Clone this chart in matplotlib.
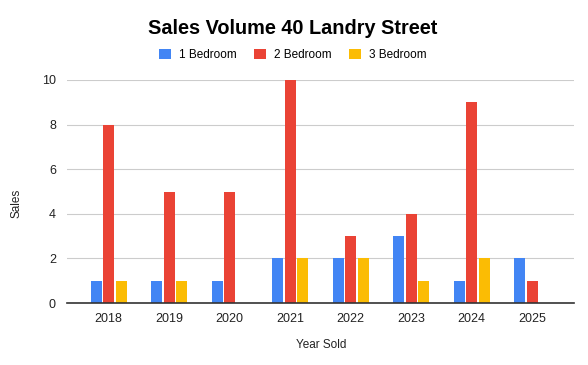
import matplotlib
matplotlib.use("Agg")
import matplotlib.pyplot as plt
import numpy as np
from matplotlib.patches import Patch

years = ["2018", "2019", "2020", "2021", "2022", "2023", "2024", "2025"]
series_names = ["1 Bedroom", "2 Bedroom", "3 Bedroom"]
one_bed = [1, 1, 1, 2, 2, 3, 1, 2]
two_bed = [8, 5, 5, 10, 3, 4, 9, 1]
three_bed = [1, 1, 0, 2, 2, 1, 2, 0]
colors = ["#4285F4", "#EA4335", "#FBBC04"]

plt.rcParams['font.family'] = ['Liberation Sans', 'DejaVu Sans']

fig = plt.figure(figsize=(5.88, 3.65), dpi=100)
ax = fig.add_axes([67/588, 1 - 303/365, (574-67)/588, (303-80)/365])

x = np.arange(len(years))
w = 0.18
step = 0.205
for i, (vals, c) in enumerate(zip([one_bed, two_bed, three_bed], colors)):
    ax.bar(x + (i - 1) * step, vals, width=w, color=c, zorder=3)

ax.set_xlim(-0.69, 7.69)
ax.set_ylim(0, 10)
ax.set_yticks([0, 2, 4, 6, 8, 10])
ax.set_xticks(x)
ax.set_xticklabels(years)
ax.tick_params(axis='both', length=0, labelsize=9, colors='#222222')
ax.tick_params(axis='x', pad=7)
ax.tick_params(axis='y', pad=8)
ax.grid(axis='y', color='#cccccc', linewidth=0.8, zorder=0)
for s in ['top', 'right', 'left']:
    ax.spines[s].set_visible(False)
ax.spines['bottom'].set_color('#333333')
ax.spines['bottom'].set_linewidth(1.2)
ax.spines['bottom'].set_zorder(4)

fig.text(293/588, 1 - 28/365, "Sales Volume 40 Landry Street", ha='center', va='center',
         fontsize=14.3, fontweight='bold', color='#000000')
fig.text(17/588, 1 - 203/365, "Sales", rotation=90, ha='center', va='center', fontsize=8.5, color='#222222')
fig.text(321/588, 1 - 345/365, "Year Sold", ha='center', va='center', fontsize=8.5, color='#222222')

handles = [Patch(facecolor=c, edgecolor='none') for c in colors]
fig.legend(handles, series_names, loc='center', bbox_to_anchor=(293/588, 1 - 55/365), ncol=3,
           frameon=False, fontsize=8.5, handlelength=1.0, handleheight=1.0,
           columnspacing=1.45, handletextpad=0.7)

fig.savefig("out.png", dpi=100)
